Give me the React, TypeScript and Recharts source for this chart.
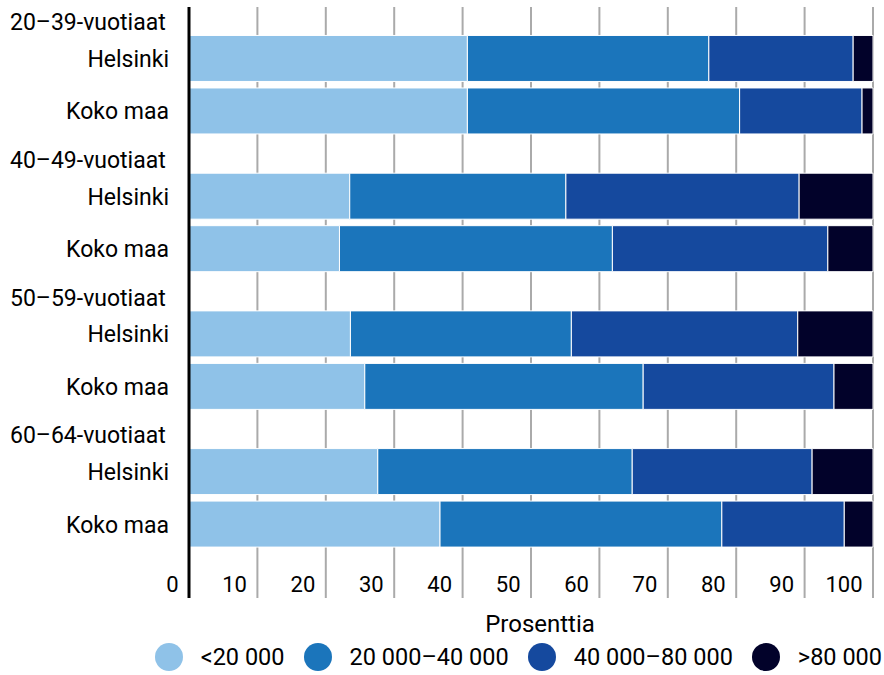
import { BarChart, Bar, XAxis, YAxis, CartesianGrid, Legend } from "recharts";

const groups = ["20–39-vuotiaat", "40–49-vuotiaat", "50–59-vuotiaat", "60–64-vuotiaat"];
const regions = ["Helsinki", "Koko maa"];
const seriesNames = ["<20 000", "20 000–40 000", "40 000–80 000", ">80 000"];
const seriesKeys = ["under20", "from20to40", "from40to80", "over80"];
const seriesColors = ["#8fc2e8", "#1b75bb", "#15499e", "#02022a"];

// one value per row: group by group, Helsinki then Koko maa
const under20 = [40.7, 40.7, 23.5, 22.0, 23.6, 25.7, 27.6, 36.7];
const from20to40 = [35.3, 39.8, 31.6, 39.9, 32.3, 40.7, 37.2, 41.2];
const from40to80 = [21.1, 17.9, 34.1, 31.5, 33.1, 27.9, 26.3, 17.9];
const over80 = [2.9, 1.6, 10.8, 6.6, 11.0, 5.7, 8.9, 4.2];

const xTicks = [0, 10, 20, 30, 40, 50, 60, 70, 80, 90, 100];

// vertical layout: rows in units of one bar pitch, groups leave room for a heading
const GROUP_STEP = 2.623;
const Y_DOMAIN: [number, number] = [-0.985, 10.272];
const HEADING_OFFSET = 36.7;

const seriesValues = [under20, from20to40, from40to80, over80];

const rows = groups.flatMap((group, gi) =>
  regions.map((region, ri) => {
    const i = gi * regions.length + ri;
    const row: Record<string, any> = { group, region, first: ri === 0, pos: gi * GROUP_STEP + ri };
    seriesKeys.forEach((k, si) => {
      row[k] = seriesValues[si][i];
    });
    return row;
  })
);

const FONT = "Roboto, sans-serif";

function RowTick(props: any) {
  const { y, payload } = props;
  const row = rows.find((r) => Math.abs(r.pos - payload.value) < 1e-6);
  if (!row) return null;
  return (
    <g>
      <text x={169} y={y} dy="0.355em" textAnchor="end" fontSize={23} fill="#000" fontFamily={FONT}>
        {row.region}
      </text>
      {row.first && (
        <text x={10} y={y - HEADING_OFFSET} dy="0.355em" textAnchor="start" fontSize={23} fill="#000" fontFamily={FONT}>
          {row.group}
        </text>
      )}
    </g>
  );
}

function PercentTick(props: any) {
  const { x, y, payload } = props;
  return (
    <text x={x - 10.5} y={y - 6.3} textAnchor="end" fontSize={22} fill="#000" fontFamily={FONT}>
      {payload.value}
    </text>
  );
}

function LegendContent() {
  return (
    <div
      style={{
        display: "flex",
        justifyContent: "flex-end",
        alignItems: "center",
        height: 36,
        gap: 19,
        paddingRight: 2,
        fontFamily: FONT,
        fontSize: 23.5,
        color: "#000",
      }}
    >
      {seriesNames.map((name, i) => (
        <div key={name} style={{ display: "flex", alignItems: "center", gap: 18 }}>
          <span
            style={{ width: 28, height: 28, borderRadius: "50%", background: seriesColors[i], display: "inline-block" }}
          />
          <span>{name}</span>
        </div>
      ))}
    </div>
  );
}

export default function App() {
  return (
    <div style={{ width: 884, height: 675, fontFamily: FONT }}>
      <style>{"body{margin:0}"}</style>
      <BarChart
        width={884}
        height={675}
        data={rows}
        layout="vertical"
        margin={{ top: 7, right: 11, left: 0, bottom: 0 }}
      >
        <CartesianGrid horizontal={false} stroke="#aaaaaa" strokeWidth={2} />
        <XAxis
          type="number"
          domain={[0, 100]}
          ticks={xTicks}
          interval={0}
          axisLine={false}
          tickLine={false}
          tickSize={0}
          tickMargin={0}
          height={41}
          tick={PercentTick}
          label={{ value: "Prosenttia", position: "insideBottom", offset: 7, dx: 9, fill: "#000", fontSize: 24, fontFamily: FONT }}
        />
        <YAxis
          type="number"
          dataKey="pos"
          domain={Y_DOMAIN}
          ticks={rows.map((r) => r.pos)}
          interval={0}
          width={189}
          tickLine={false}
          axisLine={{ stroke: "#000", strokeWidth: 3 }}
          tick={RowTick}
        />
        {seriesKeys.map((k, i) => (
          <Bar
            key={k}
            dataKey={k}
            name={seriesNames[i]}
            stackId="a"
            fill={seriesColors[i]}
            stroke="#ffffff"
            strokeWidth={1}
            barSize={46}
            isAnimationActive={false}
          />
        ))}
        <Legend
          verticalAlign="bottom"
          height={36}
          content={LegendContent}
          wrapperStyle={{ left: 0, width: 884 }}
        />
      </BarChart>
    </div>
  );
}
